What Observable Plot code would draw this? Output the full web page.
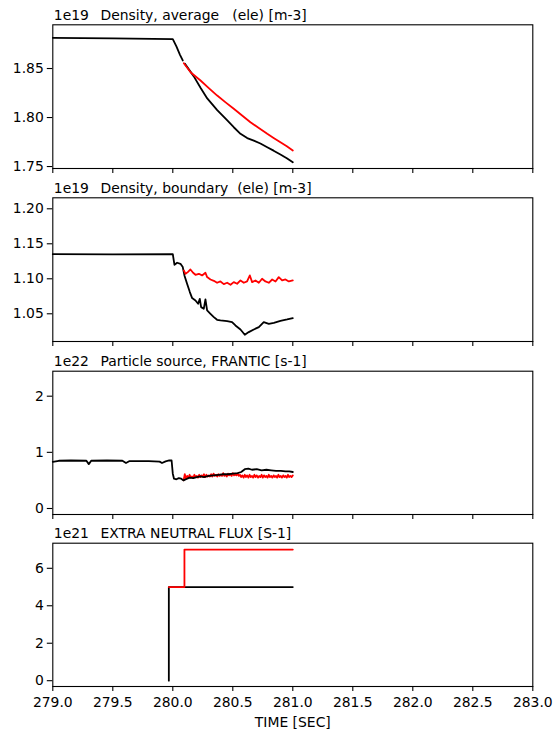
<!DOCTYPE html>
<html>
<head>
<meta charset="utf-8">
<script src="https://cdn.jsdelivr.net/npm/d3@7"></script>
<script src="https://cdn.jsdelivr.net/npm/@observablehq/plot@0.6"></script>
<style>
  html, body { margin: 0; padding: 0; background: #fff; }
  #wrap { position: relative; width: 555px; height: 731px; overflow: hidden; }
  #wrap svg { position: absolute; left: 0; }
  #wrap svg text { white-space: pre; }
</style>
</head>
<body>
<div id="wrap"></div>
<script>
// ---------- shared x axis ----------
const xTicks = [279.0, 279.5, 280.0, 280.5, 281.0, 281.5, 282.0, 282.5, 283.0];
const xLabel = "TIME [SEC]";

// ---------- panel 1: Density, average ----------
const p1Title = "Density, average   (ele) [m-3]";
const p1Offset = "1e19";
const p1Ticks = [1.75, 1.80, 1.85];
const p1BlackT = [279.0, 279.5, 280.0, 280.03, 280.06, 280.083, 280.09, 280.1, 280.175, 280.231, 280.287, 280.37, 280.45, 280.508, 280.564, 280.62, 280.675, 280.73, 280.787, 280.84, 280.897, 280.95, 281.0];
const p1BlackV = [1.8813, 1.8808, 1.8800, 1.8725, 1.8640, 1.8582, null, 1.8550, 1.8420, 1.8303, 1.8195, 1.8075, 1.7975, 1.7901, 1.7834, 1.7790, 1.7765, 1.7735, 1.7697, 1.7662, 1.7622, 1.7585, 1.7544];
const p1RedT = [280.092, 280.15, 280.231, 280.30, 280.37, 280.44, 280.508, 280.58, 280.647, 280.72, 280.787, 280.84, 280.897, 280.95, 281.0];
const p1RedV = [1.8554, 1.8460, 1.8378, 1.8300, 1.8224, 1.8155, 1.8089, 1.8018, 1.7952, 1.7890, 1.7834, 1.7792, 1.7748, 1.7706, 1.7663];

// ---------- panel 2: Density, boundary ----------
const p2Title = "Density, boundary  (ele) [m-3]";
const p2Offset = "1e19";
const p2Ticks = [1.05, 1.10, 1.15, 1.20];
const p2BlackT = [279.0, 279.5, 280.0, 280.008, 280.014, 280.036, 280.064, 280.083, 280.097, 280.119, 280.142, 280.161, 280.189, 280.211, 280.225, 280.236, 280.258, 280.272, 280.286, 280.314, 280.342, 280.369, 280.397, 280.453, 280.494, 280.522, 280.564, 280.60, 280.633, 280.675, 280.717, 280.758, 280.80, 280.842, 280.897, 280.953, 281.0];
const p2BlackV = [1.1352, 1.1350, 1.1352, 1.1262, 1.1200, 1.1229, 1.1214, 1.1167, 1.1048, 1.0929, 1.0810, 1.0724, 1.0690, 1.0643, 1.0714, 1.0595, 1.0571, 1.0705, 1.0548, 1.0500, 1.0452, 1.0414, 1.0405, 1.0395, 1.0381, 1.0333, 1.0276, 1.0200, 1.0238, 1.0276, 1.0310, 1.0381, 1.0357, 1.0371, 1.0400, 1.0419, 1.0438];
const p2RedT = [280.092, 280.106, 280.125, 280.147, 280.169, 280.189, 280.217, 280.244, 280.272, 280.286, 280.314, 280.342, 280.369, 280.397, 280.425, 280.453, 280.481, 280.508, 280.536, 280.564, 280.592, 280.619, 280.642, 280.661, 280.689, 280.717, 280.744, 280.772, 280.80, 280.828, 280.856, 280.883, 280.911, 280.939, 280.967, 281.0];
const p2RedV = [1.1119, 1.1071, 1.1095, 1.1133, 1.1086, 1.1057, 1.1071, 1.1048, 1.1086, 1.1024, 1.0990, 1.0971, 1.0943, 1.0962, 1.0924, 1.0943, 1.0914, 1.0952, 1.0929, 1.0976, 1.0943, 1.0962, 1.1048, 1.0952, 1.0976, 1.0943, 1.1000, 1.0962, 1.0943, 1.0990, 1.0962, 1.1024, 1.0976, 1.0990, 1.0962, 1.0976];

// ---------- panel 3: Particle source ----------
const p3Title = "Particle source, FRANTIC [s-1]";
const p3Offset = "1e22";
const p3Ticks = [0, 1, 2];
const p3BlackT = [279.0, 279.05, 279.15, 279.28, 279.30, 279.32, 279.45, 279.58, 279.61, 279.64, 279.80, 279.89, 279.91, 279.94, 279.97, 279.99, 280.0, 280.01, 280.03, 280.05, 280.07, 280.09, 280.11, 280.14, 280.17, 280.20, 280.23, 280.26, 280.30, 280.34, 280.38, 280.42, 280.46, 280.50, 280.54, 280.57, 280.60, 280.63, 280.66, 280.70, 280.74, 280.78, 280.82, 280.86, 280.90, 280.94, 280.97, 281.0];
const p3BlackV = [0.83, 0.85, 0.855, 0.85, 0.79, 0.85, 0.855, 0.85, 0.81, 0.845, 0.845, 0.835, 0.81, 0.84, 0.855, 0.855, 0.62, 0.53, 0.52, 0.54, 0.53, 0.50, 0.52, 0.55, 0.54, 0.56, 0.57, 0.56, 0.58, 0.59, 0.60, 0.61, 0.61, 0.62, 0.63, 0.65, 0.70, 0.71, 0.69, 0.70, 0.68, 0.69, 0.68, 0.67, 0.67, 0.66, 0.66, 0.65];
const p3RedT = [280.09, 280.10, 280.11, 280.12, 280.13, 280.14, 280.15, 280.16, 280.17, 280.18, 280.19, 280.20, 280.21, 280.22, 280.23, 280.24, 280.25, 280.26, 280.27, 280.28, 280.29, 280.30, 280.31, 280.32, 280.33, 280.34, 280.35, 280.36, 280.37, 280.38, 280.39, 280.40, 280.41, 280.42, 280.43, 280.44, 280.45, 280.46, 280.47, 280.48, 280.49, 280.50, 280.51, 280.52, 280.53, 280.54, 280.55, 280.56, 280.57, 280.58, 280.59, 280.60, 280.61, 280.62, 280.63, 280.64, 280.65, 280.66, 280.67, 280.68, 280.69, 280.70, 280.71, 280.72, 280.73, 280.74, 280.75, 280.76, 280.77, 280.78, 280.79, 280.80, 280.81, 280.82, 280.83, 280.84, 280.85, 280.86, 280.87, 280.88, 280.89, 280.90, 280.91, 280.92, 280.93, 280.94, 280.95, 280.96, 280.97, 280.98, 280.99, 281.0];
const p3RedV = [0.50, 0.61, 0.53, 0.58, 0.54, 0.60, 0.55, 0.57, 0.54, 0.60, 0.56, 0.58, 0.55, 0.60, 0.56, 0.59, 0.57, 0.61, 0.56, 0.60, 0.57, 0.59, 0.57, 0.61, 0.57, 0.62, 0.58, 0.60, 0.57, 0.61, 0.58, 0.60, 0.58, 0.63, 0.58, 0.60, 0.57, 0.62, 0.59, 0.61, 0.58, 0.63, 0.59, 0.61, 0.59, 0.62, 0.58, 0.60, 0.56, 0.59, 0.55, 0.60, 0.56, 0.59, 0.55, 0.60, 0.56, 0.58, 0.55, 0.60, 0.56, 0.59, 0.55, 0.58, 0.56, 0.60, 0.55, 0.59, 0.56, 0.58, 0.55, 0.60, 0.56, 0.58, 0.55, 0.59, 0.56, 0.58, 0.55, 0.60, 0.56, 0.58, 0.55, 0.59, 0.56, 0.58, 0.55, 0.60, 0.56, 0.58, 0.56, 0.59];

// ---------- panel 4: Extra neutral flux ----------
const p4Title = "EXTRA NEUTRAL FLUX [S-1]";
const p4Offset = "1e21";
const p4Ticks = [0, 2, 4, 6];
const p4BlackT = [279.967, 279.967, 281.0];
const p4BlackV = [0, 5, 5];
const p4RedT = [279.967, 280.097, 280.097, 281.0];
const p4RedV = [5, 5, 7, 7];

// ---------- drawing ----------
const FONT = "DejaVu Sans";
const FS = 13.9;
const toRows = (t, v) => t.map((x, i) => ({t: x, v: v[i]}));

function panel(cfg) {
  const marks = [
    Plot.axisY({ticks: cfg.yTicks, tickFormat: cfg.yFmt, tickSize: 5.5, tickPadding: 3.5, strokeWidth: 1.1, label: null, fontSize: FS}),
    Plot.axisX({ticks: xTicks, tickSize: 5, tickPadding: 6, strokeWidth: 1.1, label: null, fontSize: FS,
      tickFormat: cfg.last ? d3.format(".1f") : () => ""}),
  ];
  for (const s of cfg.series) {
    marks.push(Plot.line(toRows(s.t, s.v), {x: "t", y: "v", stroke: s.color, strokeWidth: 1.8}));
  }
  marks.push(Plot.frame({stroke: "black", strokeWidth: 1.1}));
  marks.push(Plot.text([cfg.offset], {text: d => d, frameAnchor: "top-left", lineAnchor: "middle", textAnchor: "start", dx: 1, dy: -9.5, fontSize: FS, fill: "black"}));
  marks.push(Plot.text([cfg.title], {text: d => d, frameAnchor: "top-left", lineAnchor: "middle", textAnchor: "start", dx: 47.7, dy: -9.5, fontSize: FS, fill: "black"}));
  if (cfg.last) {
    marks.push(Plot.text([xLabel], {text: d => d, frameAnchor: "bottom", lineAnchor: "middle", dy: 35.7, fontSize: FS, fill: "black"}));
  }
  const svg = Plot.plot({
    width: 555, height: cfg.height,
    marginLeft: 52.3, marginRight: 22.7, marginTop: cfg.mt, marginBottom: cfg.mb,
    x: {domain: [279, 283]},
    y: {domain: cfg.yDomain},
    style: {fontFamily: FONT, fontSize: FS + "px", color: "black", background: "transparent", overflow: "visible"},
    marks
  });
  svg.style.top = cfg.top + "px";
  document.getElementById("wrap").appendChild(svg);
}

panel({top: 0, height: 176, mt: 24.3, mb: 8, yDomain: [1.748, 1.8946], yTicks: p1Ticks, yFmt: d3.format(".2f"),
  title: p1Title, offset: p1Offset,
  series: [{t: p1BlackT, v: p1BlackV, color: "black"}, {t: p1RedT, v: p1RedV, color: "red"}]});
panel({top: 176, height: 174, mt: 21.3, mb: 9, yDomain: [1.0104, 1.2157], yTicks: p2Ticks, yFmt: d3.format(".2f"),
  title: p2Title, offset: p2Offset,
  series: [{t: p2BlackT, v: p2BlackV, color: "black"}, {t: p2RedT, v: p2RedV, color: "red"}]});
panel({top: 350, height: 174, mt: 20.7, mb: 10, yDomain: [-0.107, 2.445], yTicks: p3Ticks, yFmt: d3.format("d"),
  title: p3Title, offset: p3Offset,
  series: [{t: p3RedT, v: p3RedV, color: "red"}, {t: p3BlackT, v: p3BlackV, color: "black"}]});
panel({top: 524, height: 207, mt: 18.7, mb: 45, yDomain: [-0.31, 7.34], yTicks: p4Ticks, yFmt: d3.format("d"),
  title: p4Title, offset: p4Offset, last: true,
  series: [{t: p4BlackT, v: p4BlackV, color: "black"}, {t: p4RedT, v: p4RedV, color: "red"}]});
</script>
</body>
</html>
